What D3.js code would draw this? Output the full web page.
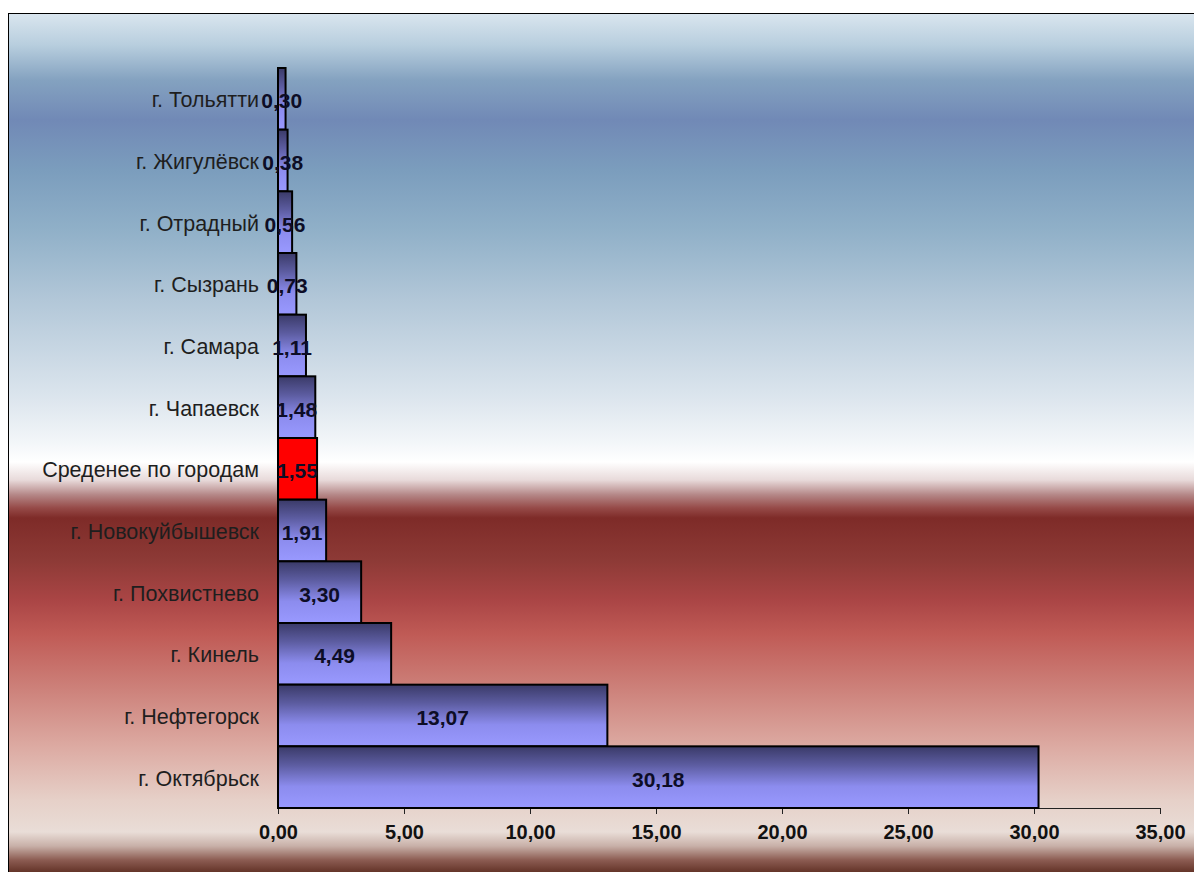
<!DOCTYPE html>
<html>
<head>
<meta charset="utf-8">
<script src="https://cdn.jsdelivr.net/npm/d3@7"></script>
<style>
  html, body { margin: 0; padding: 0; background: #ffffff; }
  svg { display: block; }
</style>
</head>
<body>
<svg id="chart" width="1194" height="872"></svg>
<script>
// Cities (top to bottom) and their values
const categories = [
  "г. Тольятти",
  "г. Жигулёвск",
  "г. Отрадный",
  "г. Сызрань",
  "г. Самара",
  "г. Чапаевск",
  "Среденее по городам",
  "г. Новокуйбышевск",
  "г. Похвистнево",
  "г. Кинель",
  "г. Нефтегорск",
  "г. Октябрьск"
];
const values = [0.30, 0.38, 0.56, 0.73, 1.11, 1.48, 1.55, 1.91, 3.30, 4.49, 13.07, 30.18];
const highlighted = ["Среденее по городам"];
const xTicks = [0, 5, 10, 15, 20, 25, 30, 35];

const fmt = v => d3.format(".2f")(v).replace(".", ",");

const svg = d3.select("#chart");
const W = 1194, H = 872;
const FONT = "Arial, 'Liberation Sans', sans-serif";
const defs = svg.append("defs");

// Background band gradient
const bg = defs.append("linearGradient").attr("id", "bgGrad")
  .attr("gradientUnits", "userSpaceOnUse")
  .attr("x1", 0).attr("y1", 13).attr("x2", 0).attr("y2", H);
const bgStops = [
  [13, "#dae6ef"], [45, "#b8cede"], [80, "#84a2c0"], [120, "#7189b6"],
  [170, "#7b9dbd"], [230, "#90b0c8"], [300, "#b2c7d8"], [400, "#dde6ee"],
  [440, "#f1f5f8"], [462, "#ffffff"], [480, "#e8dada"], [495, "#b48686"],
  [508, "#964a48"], [518, "#7e2b28"], [560, "#8d3a36"], [600, "#aa4545"],
  [635, "#c05b56"], [690, "#cd827b"], [745, "#dca9a1"], [800, "#e6d0c8"],
  [832, "#e9ddd7"], [846, "#c8b0a8"], [860, "#8c5c52"], [872, "#643428"]
];
bgStops.forEach(([yy, c]) => bg.append("stop")
  .attr("offset", ((yy - 13) / (H - 13) * 100) + "%").attr("stop-color", c));

// Bar fill gradient: dark top fading to periwinkle
const barGrad = defs.append("linearGradient").attr("id", "barGrad")
  .attr("x1", 0).attr("y1", 0).attr("x2", 0).attr("y2", 1);
barGrad.append("stop").attr("offset", "0%").attr("stop-color", "#3a3a68");
barGrad.append("stop").attr("offset", "30%").attr("stop-color", "#5c5ca0");
barGrad.append("stop").attr("offset", "65%").attr("stop-color", "#8c8cee");
barGrad.append("stop").attr("offset", "100%").attr("stop-color", "#9999ff");

svg.append("rect")
  .attr("x", 8.5).attr("y", 13.5).attr("width", W - 8).attr("height", H)
  .attr("fill", "url(#bgGrad)").attr("stroke", "#000").attr("stroke-width", 1);

const margin = { left: 278, right: 34, top: 68, bottom: 64 };
const x = d3.scaleLinear().domain([0, 35]).range([margin.left, W - margin.right]);
const y = d3.scaleBand().domain(categories).range([margin.top, H - margin.bottom]).padding(0);

const data = categories.map((c, i) => ({ c, v: values[i] }));

// X axis
const xAxis = svg.append("g")
  .attr("transform", `translate(0,${y.range()[1]})`)
  .call(d3.axisBottom(x).tickValues(xTicks).tickFormat(fmt).tickSizeInner(6).tickSizeOuter(0));
xAxis.select(".domain").attr("stroke", "#222");
xAxis.selectAll(".tick line").attr("stroke", "#222");
xAxis.selectAll(".tick text")
  .attr("font-family", FONT)
  .attr("font-size", 20).attr("font-weight", "bold").attr("fill", "#111")
  .attr("dy", "1.1em");

// Bars
svg.append("g").selectAll("rect").data(data).join("rect")
  .attr("x", x(0))
  .attr("y", d => y(d.c))
  .attr("width", d => x(d.v) - x(0))
  .attr("height", y.bandwidth())
  .attr("fill", d => highlighted.includes(d.c) ? "#ff0000" : "url(#barGrad)")
  .attr("stroke", "#000").attr("stroke-width", 2);

// Category labels
svg.append("g").selectAll("text").data(data).join("text")
  .attr("x", margin.left - 19)
  .attr("y", d => y(d.c) + y.bandwidth() / 2 + 1)
  .attr("dy", "0.35em")
  .attr("text-anchor", "end")
  .attr("font-family", FONT)
  .attr("font-size", 21.5).attr("fill", "#1e1e1e")
  .text(d => d.c);

// Value labels
svg.append("g").selectAll("text").data(data).join("text")
  .attr("x", d => (x(0) + x(d.v)) / 2)
  .attr("y", d => y(d.c) + y.bandwidth() / 2 + 2)
  .attr("dy", "0.35em")
  .attr("text-anchor", "middle")
  .attr("font-family", FONT)
  .attr("font-size", 21).attr("font-weight", "bold").attr("fill", "#0d0d26")
  .text(d => fmt(d.v));
</script>
</body>
</html>
